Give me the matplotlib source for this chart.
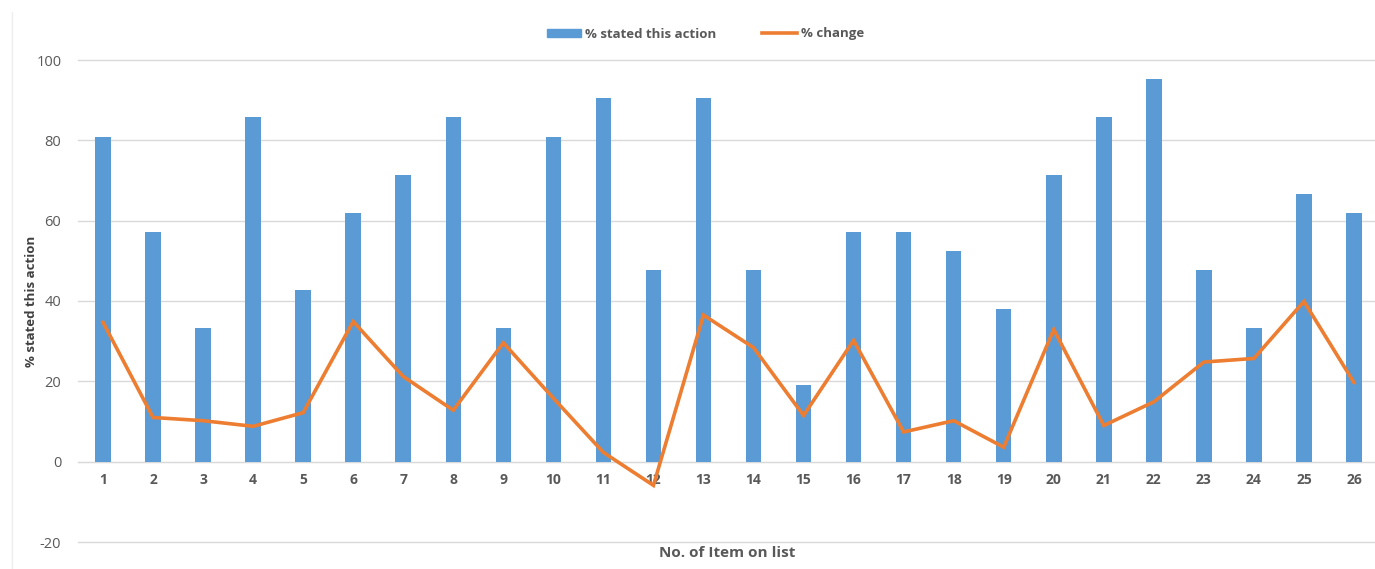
import numpy as np
import matplotlib.pyplot as plt
from matplotlib.lines import Line2D
from matplotlib.patches import Patch

# item numbers on the list
items = list(range(1, 27))

# % of respondents who stated this action
stated = [80.95, 57.14, 33.33, 85.71, 42.86, 61.90, 71.43, 85.71, 33.33, 80.95,
          90.48, 47.62, 90.48, 47.62, 19.05, 57.14, 57.14, 52.38, 38.10, 71.43,
          85.71, 95.24, 47.62, 33.33, 66.67, 61.90]

# % change
change = [34.7, 11.0, 10.2, 8.8, 12.2, 34.9, 21.2, 12.8, 29.6, 15.8,
          2.3, -5.9, 36.5, 28.4, 11.5, 30.2, 7.4, 10.2, 3.6, 32.9,
          9.0, 14.9, 24.8, 25.7, 39.9, 19.7]

yticks = [-20, 0, 20, 40, 60, 80, 100]

blue = '#5B9BD5'
orange = '#ED7D31'
grey = '#595959'
gridc = '#D9D9D9'

plt.rcParams['font.family'] = ['Open Sans', 'DejaVu Sans']
plt.rcParams['axes.unicode_minus'] = False

fig = plt.figure(figsize=(13.75, 5.69), dpi=100)
ax = fig.add_axes([78 / 1375, 27 / 569, 1301 / 1375, 482 / 569])

x = np.array(items)
ax.bar(x, stated, width=0.31, color=blue, zorder=2)
ax.plot(x, change, color=orange, linewidth=2.6, zorder=3,
        solid_joinstyle='miter')

ax.set_xlim(0.5, 26.5)
ax.set_ylim(-20, 100)
ax.set_yticks(yticks)
ax.yaxis.grid(True, color=gridc, linewidth=1.0, zorder=0)
ax.set_axisbelow(True)
for gl in ax.get_ygridlines():
    gl.set_clip_on(False)

for s in ['top', 'right', 'left']:
    ax.spines[s].set_visible(False)
ax.spines['bottom'].set_position(('data', 0))
ax.spines['bottom'].set_color(gridc)
ax.spines['bottom'].set_zorder(1)

ax.set_xticks(x)
ax.set_xticklabels([str(i) for i in items], fontsize=10, fontweight='bold',
                   color=grey)
ax.tick_params(axis='x', length=0, pad=8)
ax.tick_params(axis='y', length=0, pad=12, labelsize=10.5, labelcolor=grey)

ax.set_ylabel('% stated this action', fontsize=9.5, fontweight='bold',
              color='#404040', labelpad=-1,
              family=['Liberation Sans Narrow', 'Open Sans'])
fig.text(0.529, 1 - 553 / 569, 'No. of Item on list', ha='center',
         va='center', fontsize=11, fontweight='bold', color=grey)

handles = [Patch(color=blue), Line2D([0], [0], color=orange, linewidth=2.6)]
fig.legend(handles, ['% stated this action', '% change'], loc='center',
           bbox_to_anchor=(0.513, 1 - 34 / 569), ncol=2, frameon=False,
           handlelength=2.6, handleheight=0.5,
           handletextpad=0.3, columnspacing=3.5,
           prop={'weight': 'bold', 'size': 9.5})
for t in fig.legends[0].get_texts():
    t.set_color(grey)

# thin frame edge on the left
fig.add_artist(Line2D([12 / 1375, 12 / 1375], [0, 1 - 12 / 569],
                      color='#EEEEEE', linewidth=1))

fig.savefig('out.png', dpi=100)
